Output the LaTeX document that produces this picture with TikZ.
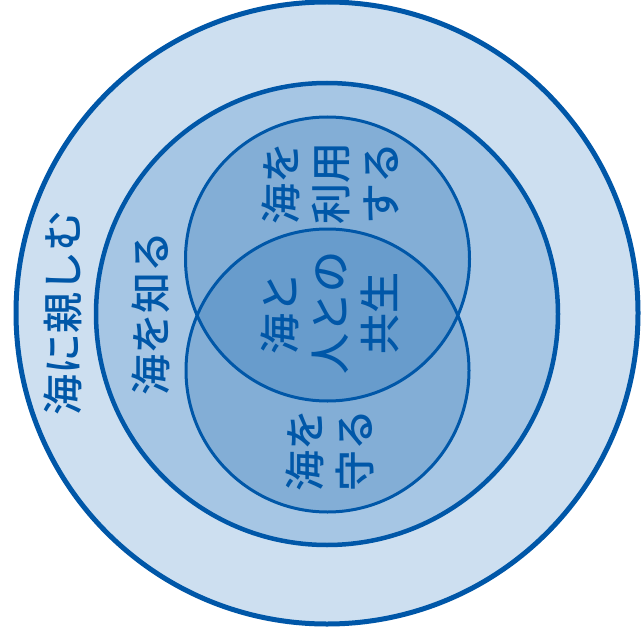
\documentclass[tikz,border=0pt]{standalone}
\usepackage{fontspec}
\newfontfamily\jp{Noto Sans CJK JP}[UprightFont={* Medium}]
\definecolor{ln}{RGB}{0,87,168}
\definecolor{cout}{RGB}{205,223,240}
\definecolor{cmid}{RGB}{166,198,228}
\definecolor{cin}{RGB}{131,174,214}
\definecolor{cover}{RGB}{104,156,204}
\tikzset{
  lbl/.style={rotate=90, align=center, inner sep=0pt, text=ln,
    font=\jp\fontsize{41}{50}\selectfont},
  ring/.style={draw=ln},
}
\begin{document}
\begin{tikzpicture}[x=1pt,y=-1pt]
\useasboundingbox (0,0) rectangle (642,639);
\fill[white] (0,0) rectangle (642,639);
\filldraw[ring, fill=cout, line width=5pt] (327,313) circle (311);
\filldraw[ring, fill=cmid, line width=4.5pt] (327,314) circle (231);
\fill[cin] (327.5,259) circle (142);
\fill[cin] (327.5,370.5) circle (141.5);
\begin{scope}
  \clip (327.5,259) circle (142);
  \fill[cover] (327.5,370.5) circle (141.5);
\end{scope}
\draw[ring, line width=3pt] (327.5,259) circle (142);
\draw[ring, line width=3pt] (327.5,370.5) circle (141.5);
\node[lbl] (shitashimu) at (63,313) {海に親しむ};
\node[lbl] (shiru) at (151,313) {海を知る};
\node[lbl] (riyou) at (330,183) {海を\\利用\\する};
\node[lbl] (kyousei) at (330,313) {海と\\人との\\共生};
\node[lbl] (mamoru) at (330,450) {海を\\守る};
\end{tikzpicture}
\end{document}
